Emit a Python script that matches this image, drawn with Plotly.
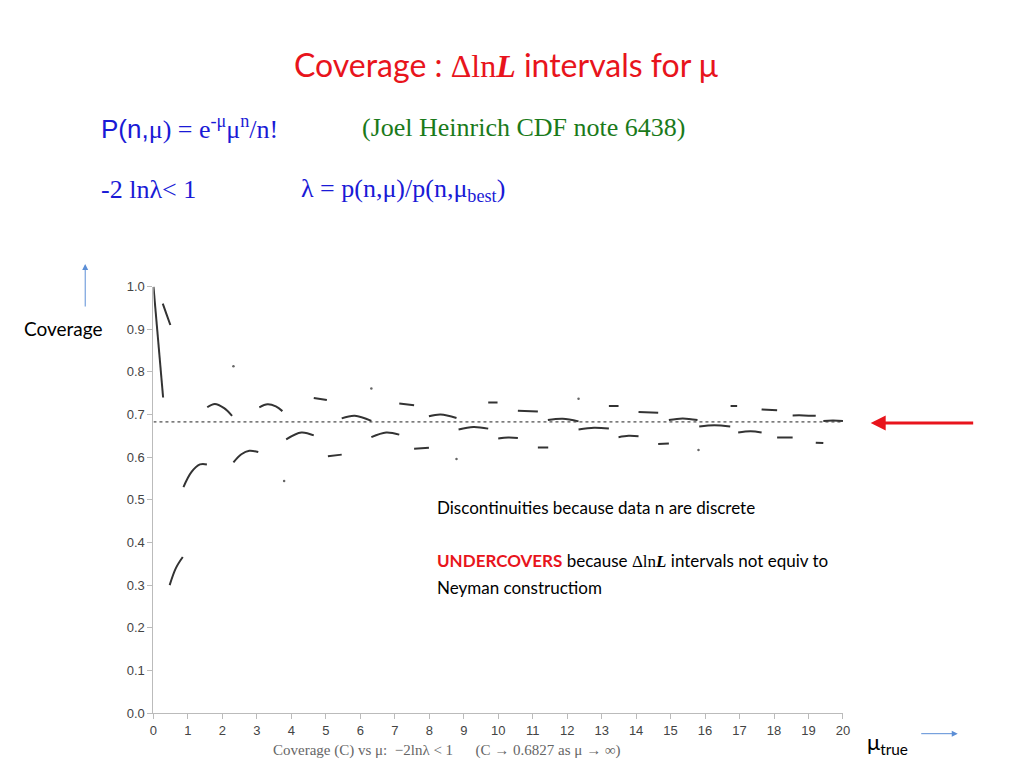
import plotly.graph_objects as go

# coverage curve segments (mu_true, coverage)
seg_x = [
    [0.0, 0.28], [0.27, 0.38, 0.49], [0.47, 0.65, 0.85], [0.87, 1.1, 1.35, 1.55],
    [1.56, 1.78, 2.05, 2.28], [2.32, 2.55, 2.78, 3.04], [3.07, 3.31, 3.55, 3.74],
    [3.85, 4.29, 4.65], [4.65, 5.03], [5.06, 5.46], [5.46, 5.84, 6.32],
    [6.32, 6.75, 7.13], [7.13, 7.56], [7.56, 7.99], [7.99, 8.33, 8.79],
    [8.85, 9.28, 9.71], [9.71, 9.98], [10.0, 10.29, 10.57], [10.57, 11.15],
    [11.15, 11.45], [11.44, 11.87, 12.33], [12.33, 12.78, 13.21], [13.21, 13.49],
    [13.49, 13.78, 14.07], [14.07, 14.64], [14.64, 14.95], [14.95, 15.35, 15.78],
    [15.83, 16.27, 16.73], [16.74, 16.93], [16.96, 17.32, 17.64], [17.64, 18.09],
    [18.09, 18.54], [18.54, 18.86, 19.21], [19.21, 19.43], [19.43, 19.71, 20.0],
]
seg_y = [
    [1.0, 0.74], [0.96, 0.935, 0.91], [0.30, 0.34, 0.366], [0.53, 0.565, 0.583, 0.583],
    [0.717, 0.725, 0.715, 0.697], [0.588, 0.607, 0.615, 0.612], [0.717, 0.724, 0.719, 0.708],
    [0.642, 0.658, 0.651], [0.739, 0.734], [0.602, 0.606], [0.691, 0.697, 0.685],
    [0.647, 0.658, 0.653], [0.726, 0.722], [0.62, 0.622], [0.696, 0.700, 0.692],
    [0.665, 0.671, 0.667], [0.728, 0.728], [0.644, 0.646, 0.645], [0.709, 0.707],
    [0.623, 0.623], [0.687, 0.690, 0.684], [0.665, 0.669, 0.667], [0.720, 0.720],
    [0.647, 0.650, 0.649], [0.706, 0.704], [0.631, 0.632], [0.687, 0.691, 0.687],
    [0.672, 0.675, 0.672], [0.720, 0.720], [0.658, 0.661, 0.658], [0.712, 0.710],
    [0.646, 0.646], [0.698, 0.698, 0.697], [0.634, 0.633], [0.685, 0.686, 0.685],
]
dot_x = [2.32, 3.79, 6.32, 8.79, 12.33, 15.81]
dot_y = [0.813, 0.544, 0.761, 0.596, 0.737, 0.617]
limit_x = [0, 20]
limit_y = [0.6827, 0.6827]
x_ticks = list(range(0, 21))
y_ticks = [0.0, 0.1, 0.2, 0.3, 0.4, 0.5, 0.6, 0.7, 0.8, 0.9, 1.0]

W, H = 1024, 768
px = lambda x: x / W
py = lambda y: 1 - y / H

xs, ys = [], []
for a, b in zip(seg_x, seg_y):
    xs += a + [None]
    ys += b + [None]

fig = go.Figure()
fig.add_trace(go.Scatter(x=limit_x, y=limit_y, mode="lines",
                         line=dict(color="#222", width=1, dash="dot"), hoverinfo="skip"))
fig.add_trace(go.Scatter(x=xs, y=ys, mode="lines", line=dict(color="#333", width=2, shape="spline"),
                         connectgaps=False))
fig.add_trace(go.Scatter(x=dot_x, y=dot_y, mode="markers", marker=dict(color="#666", size=2.5)))

axis_common = dict(showgrid=False, zeroline=False, showline=True, linecolor="#bbb", linewidth=1,
                   ticks="outside", ticklen=5, tickcolor="#bbb",
                   tickfont=dict(family="Liberation Sans, Arial", size=13, color="#444"))
fig.update_xaxes(range=[0, 20], tickvals=x_ticks, domain=[px(143), px(840)], **axis_common)
fig.update_yaxes(range=[0, 1.0], tickvals=y_ticks, tickformat=".1f",
                 domain=[py(712), py(277)], **axis_common)

ser = "Liberation Serif, Times New Roman, serif"
ann = []
def T(x, y, text, size, color="black", fam="Lato, Open Sans, sans-serif", xa="left"):
    ann.append(dict(x=px(x), y=py(y), xref="paper", yref="paper", text=text, showarrow=False,
                    xanchor=xa, yanchor="middle", font=dict(size=size, color=color, family=fam)))

T(500, 50, "Coverage : <span style='font-family:Liberation Serif'>Δln<b><i>L</i></b></span> intervals for μ",
  32, "#e8141c", xa="center")
T(88, 115, "P(n,<span style='font-family:Liberation Serif'>μ) = e<sup>-μ</sup>μ<sup>n</sup>/n!</span>",
  26, "#1a1ad6", fam="Liberation Sans, Arial")
T(352, 115, "(Joel Heinrich CDF note 6438)", 26, "#1a7a1a", fam=ser)
T(88, 178, "-2 lnλ< 1", 26, "#1a1ad6", fam=ser)
T(290, 178, "λ = p(n,μ)/p(n,μ<sub>best</sub>)", 26, "#1a1ad6", fam=ser)
T(10, 320, "Coverage", 19, "black")
T(428, 502, "Discontinuities because data n are discrete", 17, "black")
T(428, 556, "<span style='color:#e8141c'><b>UNDERCOVERS</b></span> because "
  "<span style='font-family:Liberation Serif'>Δln<b><i>L</i></b></span> intervals not equiv to", 17, "black")
T(428, 584, "Neyman constructiom", 17, "black")
T(440, 750, "Coverage (C) vs μ:  −2lnλ < 1      (C → 0.6827 as μ → ∞)", 15, "#666", fam=ser, xa="center")
T(862, 742, "μ<sub>true</sub>", 22, "black")

# arrows (ax/ay are pixel offsets of the tail from the head)
ann.append(dict(x=px(868), y=py(416), ax=104, ay=0, xref="paper", yref="paper",
                text="", showarrow=True, arrowhead=2,
                arrowsize=1, arrowwidth=3, arrowcolor="#e8141c"))
ann.append(dict(x=px(74), y=py(254), ax=0, ay=44, xref="paper", yref="paper",
                text="", showarrow=True, arrowhead=2,
                arrowsize=1.2, arrowwidth=1, arrowcolor="#5b8ed6"))
ann.append(dict(x=px(956), y=py(733), ax=-38, ay=0, xref="paper", yref="paper",
                text="", showarrow=True, arrowhead=2,
                arrowsize=1.2, arrowwidth=1, arrowcolor="#5b8ed6"))

fig.update_layout(width=W, height=H, margin=dict(l=0, r=0, t=0, b=0), showlegend=False,
                  plot_bgcolor="white", paper_bgcolor="white", annotations=ann)
fig.write_html("out.html")
